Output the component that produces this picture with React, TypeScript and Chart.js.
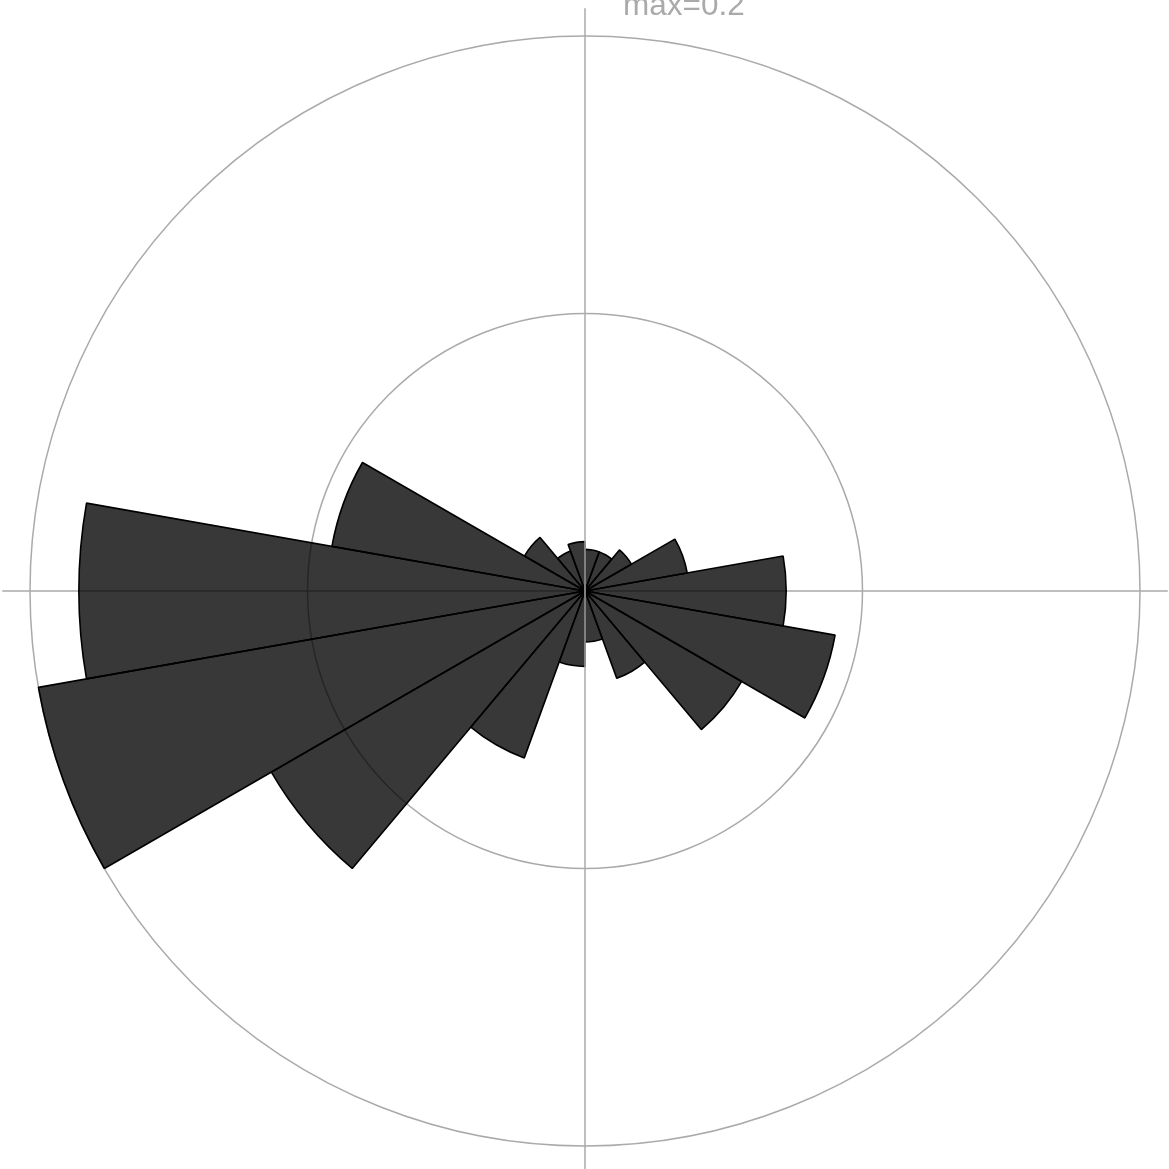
import React, { useEffect, useRef } from "react";
import { Chart, registerables } from "chart.js";

Chart.register(...registerables);

// 18 direction bins of 20° each, clockwise from north
const binLabels = [
  "0-20", "20-40", "40-60", "60-80", "80-100", "100-120",
  "120-140", "140-160", "160-180", "180-200", "200-220", "220-240",
  "240-260", "260-280", "280-300", "300-320", "320-340", "340-360",
];
const binValues = [
  0.015, 0.015, 0.0193, 0.0374, 0.0725, 0.0915,
  0.0652, 0.0335, 0.0184, 0.0272, 0.064, 0.1305,
  0.2, 0.1824, 0.0926, 0.0252, 0.0153, 0.0178,
];
const scaleMax = 0.2;
const scaleStep = 0.1;
const maxLabel = "max=0.2";

const GRID = "#aaaaaa";

function drawAxisLine(chart: any, dir: "h" | "v") {
  const s = chart.scales.r;
  if (!s) return;
  const ctx = chart.ctx;
  const ext = s.drawingArea * 1.05;
  ctx.save();
  ctx.strokeStyle = GRID;
  ctx.lineWidth = 1.5;
  ctx.beginPath();
  if (dir === "h") {
    ctx.moveTo(s.xCenter - ext, s.yCenter);
    ctx.lineTo(s.xCenter + ext, s.yCenter);
  } else {
    ctx.moveTo(s.xCenter, s.yCenter - ext);
    ctx.lineTo(s.xCenter, s.yCenter + ext);
  }
  ctx.stroke();
  ctx.restore();
}

const axisPlugin = {
  id: "axisCross",
  beforeDatasetsDraw(chart: any) {
    drawAxisLine(chart, "h");
  },
  afterDatasetsDraw(chart: any) {
    drawAxisLine(chart, "v");
  },
};

export default function App() {
  const ref = useRef<HTMLCanvasElement | null>(null);

  useEffect(() => {
    document.documentElement.style.overflow = "hidden";
    document.body.style.overflow = "hidden";
    if (!ref.current) return;
    const chart = new Chart(ref.current, {
      type: "polarArea",
      data: {
        labels: binLabels,
        datasets: [
          {
            data: binValues,
            backgroundColor: "rgba(0,0,0,0.78)",
            borderColor: "#000000",
            borderWidth: 1.6,
          },
        ],
      },
      options: {
        responsive: false,
        animation: false,
        events: [],
        layout: { padding: { left: 30, right: 29, top: 36, bottom: 23 } },
        plugins: {
          legend: { display: false },
          tooltip: { enabled: false },
          title: { display: false },
        },
        scales: {
          r: {
            min: 0,
            max: scaleMax,
            startAngle: 0,
            ticks: { display: false, stepSize: scaleStep },
            grid: { color: GRID, lineWidth: 1.5, circular: true },
            angleLines: { display: false },
            pointLabels: { display: false },
          },
        },
      },
      plugins: [axisPlugin],
    });
    return () => chart.destroy();
  }, []);

  return (
    <div style={{ position: "absolute", left: 0, top: 0, width: 1169, height: 1169, overflow: "hidden", background: "#fff" }}>
      <canvas ref={ref} width={1169} height={1169} style={{ display: "block" }} />
      <div
        style={{
          position: "absolute",
          left: 623,
          top: -10.7,
          fontFamily: '"Liberation Sans", Arial, sans-serif',
          fontSize: 31.5,
          lineHeight: 1,
          color: GRID,
          whiteSpace: "nowrap",
        }}
      >
        {maxLabel}
      </div>
    </div>
  );
}
